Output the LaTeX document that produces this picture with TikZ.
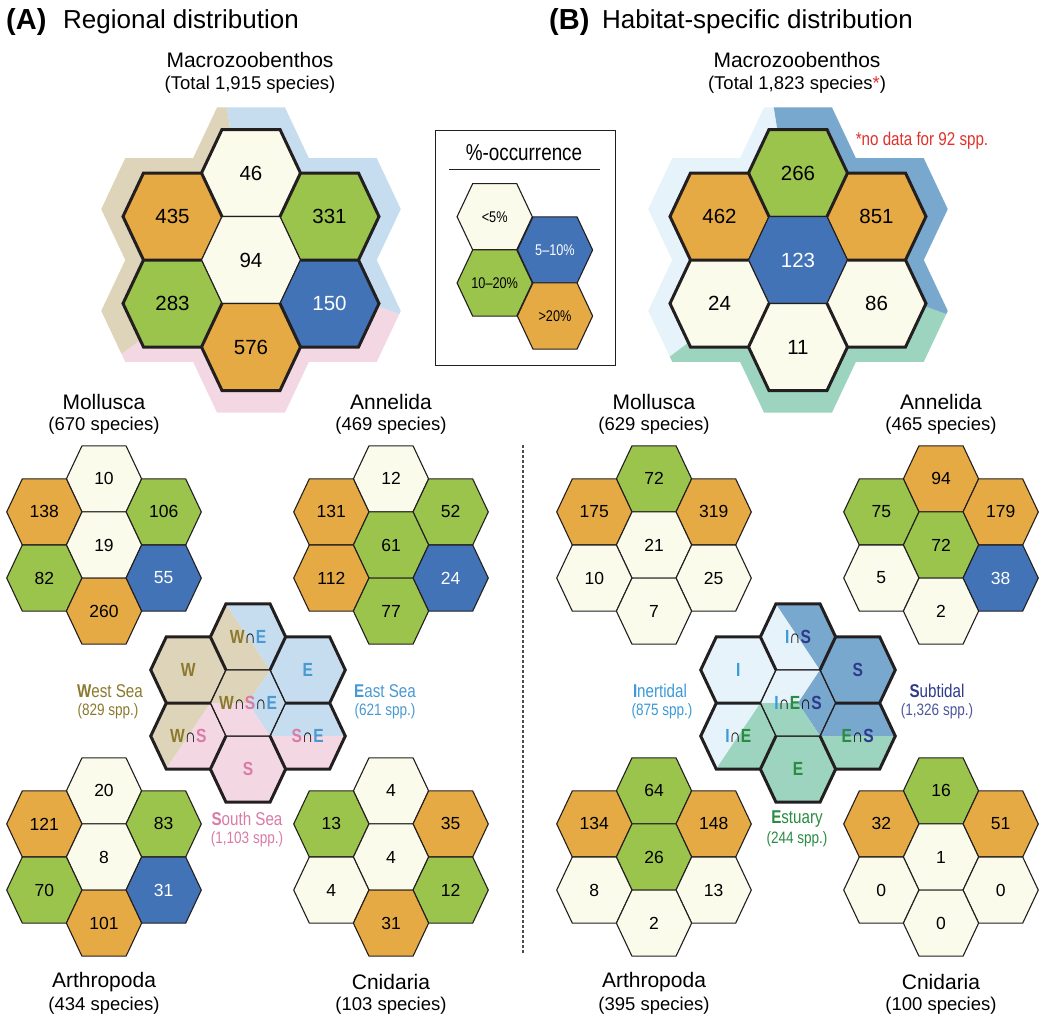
\documentclass[tikz,border=0pt]{standalone}
\usepackage{fontspec}
\setmainfont{Liberation Sans}
\newfontfamily\narrowfont{Liberation Sans}[FakeStretch=0.82]

\definecolor{cPale}{HTML}{FAFBEB}
\definecolor{cGreen}{HTML}{9BC44D}
\definecolor{cBlue}{HTML}{4273B7}
\definecolor{cOrange}{HTML}{E6AA45}
\definecolor{cLine}{HTML}{231F20}
\definecolor{bandW}{HTML}{DDD4B9}
\definecolor{bandE}{HTML}{C6DDEF}
\definecolor{bandS}{HTML}{F3D8E4}
\definecolor{bandI}{HTML}{E7F3FA}
\definecolor{bandSub}{HTML}{78A8CD}
\definecolor{bandEst}{HTML}{9CD4C0}
\definecolor{txtW}{HTML}{8B7A2E}
\definecolor{txtE}{HTML}{4A99D3}
\definecolor{txtS}{HTML}{DA7BA6}
\definecolor{txtI}{HTML}{3B9AD9}
\definecolor{txtSub}{HTML}{2D3A8C}
\definecolor{txtEst}{HTML}{2A8B41}
\definecolor{cRed}{HTML}{E0312B}

% one hexagon (flat top) around a point, scaled
\newcommand{\hexat}[3]{({#1},{#2}) ++({-49.5*#3},0) -- ++({20.5*#3},{-43.5*#3}) -- ++({58*#3},0) -- ++({20.5*#3},{43.5*#3}) -- ++({-20.5*#3},{43.5*#3}) -- ++({-58*#3},0) -- cycle}
% outer rim of seven hexagons, and the edges between the outer ones
\newcommand{\flowerline}{(-29,-130.5) -- (29,-130.5) -- (49.5,-87) -- (107.5,-87) -- (128,-43.5) -- (107.5,0) -- (128,43.5) -- (107.5,87) -- (49.5,87) -- (29,130.5) -- (-29,130.5) -- (-49.5,87) -- (-107.5,87) -- (-128,43.5) -- (-107.5,0) -- (-128,-43.5) -- (-107.5,-87) -- (-49.5,-87) -- cycle}
\newcommand{\spokes}{(29,-43.5) -- (49.5,-87) (49.5,0) -- (107.5,0) (29,43.5) -- (49.5,87) (-29,43.5) -- (-49.5,87) (-49.5,0) -- (-107.5,0) (-29,-43.5) -- (-49.5,-87)}
\newcommand{\cell}[6]{%
  \draw[hexline,#5] \hexat{#2}{#3}{#4};
  \node[#5,fill=none] (#1) at ({#2},{#3}) {#6};}
\newcommand{\flower}[6]{%
  \foreach \i/\j/\st/\num [count=\k] in {#6}{%
    \cell{#1\k}{#2+(\i)*78.5*#4}{#3+(\j)*43.5*#4}{#4}{#5,\st}{\num}}}
\newcommand{\setl}[2]{\textcolor{#1}{#2}}
\newcommand{\isect}{{\mdseries ∩}}

\tikzset{
  hexline/.style={draw=cLine, line width=1.1pt, line join=miter},
  rimline/.style={draw=cLine, line width=3pt, line join=miter},
  cP/.style={fill=cPale}, cG/.style={fill=cGreen},
  cB/.style={fill=cBlue, text=white}, cO/.style={fill=cOrange},
  bignum/.style={font=\fontsize{20.5}{24}\selectfont},
  smallnum/.style={font=\fontsize{17.5}{21}\selectfont},
  legnum/.style={font=\narrowfont\fontsize{15.5}{18}\selectfont},
  panelmark/.style={font=\bfseries\fontsize{29}{32}\selectfont, inner sep=0pt},
  paneltitle/.style={font=\fontsize{26}{30}\selectfont, inner sep=0pt},
  grouptitle/.style={font=\fontsize{21}{24}\selectfont, inner sep=0pt},
  groupcount/.style={font=\fontsize{18.5}{22}\selectfont, inner sep=0pt},
  setlabel/.style={font=\narrowfont\bfseries\fontsize{19}{21}\selectfont, inner sep=0pt},
  sidename/.style={font=\narrowfont\fontsize{18.5}{20}\selectfont, inner sep=0pt},
  sidecount/.style={font=\narrowfont\fontsize{16.5}{18}\selectfont, inner sep=0pt},
  divider/.style={draw=black!70, line width=1.3pt, dash pattern=on 3pt off 2pt}
}

\begin{document}
\begin{tikzpicture}[x=1pt, y=-1pt]
\fill[white] (0,0) rectangle (1045,1017);
\path[use as bounding box] (0,0) rectangle (1045,1017);

% panel headings
\node[panelmark, anchor=base west] (panA) at (6,29) {(A)};
\node[paneltitle, anchor=base west] (titA) at (63,28) {Regional distribution};
\node[panelmark, anchor=base west] (panB) at (549,29) {(B)};
\node[paneltitle, anchor=base west] (titB) at (602,28) {Habitat-specific distribution};

\node[grouptitle] (macA) at (250,60) {Macrozoobenthos};
\node[groupcount] (macAn) at (250,85) {(Total 1,915 species)};
\node[grouptitle] (macB) at (797,60) {Macrozoobenthos};
\node[groupcount] (macBn) at (797,85) {(Total 1,823 species\textcolor{cRed}{*})};
\node[sidename, text=cRed] (nodata) at (922,141) {*no data for 92 spp.};

% big cluster (A)
\begin{scope}[shift={(251,260)}]
  \clip[scale=1.17] \flowerline;
  \fill[bandW] (0,0) -- (-99:300) -- (-160:300) -- (-216:300) -- cycle;
  \fill[bandS] (0,0) -- (-216:300) -- (-280:300) -- (-340:300) -- cycle;
  \fill[bandE] (0,0) -- (-340:300) -- (-400:300) -- (-459:300) -- cycle;
\end{scope}
\flower{macroA}{251}{260}{1}{bignum}{0/-2/cP/46, -1/-1/cO/435, 1/-1/cG/331, 0/0/cP/94, -1/1/cG/283, 1/1/cB/150, 0/2/cO/576}
\draw[rimline, shift={(251,260)}] \flowerline \spokes;

% big cluster (B)
\begin{scope}[shift={(798,260)}]
  \clip[scale=1.17] \flowerline;
  \fill[bandI] (0,0) -- (-99:300) -- (-160:300) -- (-217:300) -- cycle;
  \fill[bandEst] (0,0) -- (-217:300) -- (-280:300) -- (-340:300) -- cycle;
  \fill[bandSub] (0,0) -- (-340:300) -- (-400:300) -- (-459:300) -- cycle;
\end{scope}
\flower{macroB}{798}{260}{1}{bignum}{0/-2/cG/266, -1/-1/cO/462, 1/-1/cO/851, 0/0/cB/123, -1/1/cP/24, 1/1/cP/86, 0/2/cP/11}
\draw[rimline, shift={(798,260)}] \flowerline \spokes;

% legend
\node[draw=cLine, line width=1pt, minimum width=180pt, minimum height=235pt] (legend) at (525,247.5) {};
\node[font=\narrowfont\fontsize{23}{26}\selectfont] (legT) at (524,153) {\%-occurrence};
\draw[cLine, line width=1.2pt] (449,169.5) -- (600,169.5);
\cell{legP}{494.7}{216.7}{0.76}{legnum,cP}{<5\%}
\cell{legB}{555}{250}{0.76}{legnum,cB}{5–10\%}
\cell{legG}{494.7}{283}{0.76}{legnum,cG}{10–20\%}
\cell{legO}{555}{316}{0.76}{legnum,cO}{>20\%}

% group names
\foreach \nm/\x/\y/\ttl/\cnt in {mollA/104/402/Mollusca/670, annA/391/402/Annelida/469, arthA/104/982/Arthropoda/434, cnidA/391/982/Cnidaria/103, mollB/654/402/Mollusca/629, annB/941/402/Annelida/465, arthB/654/982/Arthropoda/395, cnidB/941/982/Cnidaria/100}{
  \node[grouptitle] (\nm) at (\x,\y) {\ttl};
  \node[groupcount] (\nm-n) at (\x,\y+24) {(\cnt\ species)};
}

% small clusters (A)
\flower{mollA}{104}{545}{0.76}{smallnum}{0/-2/cP/10, -1/-1/cO/138, 1/-1/cG/106, 0/0/cP/19, -1/1/cG/82, 1/1/cB/55, 0/2/cO/260}
\flower{annA}{391}{545}{0.76}{smallnum}{0/-2/cP/12, -1/-1/cO/131, 1/-1/cG/52, 0/0/cG/61, -1/1/cO/112, 1/1/cB/24, 0/2/cG/77}
\flower{arthA}{104}{857}{0.76}{smallnum}{0/-2/cP/20, -1/-1/cO/121, 1/-1/cG/83, 0/0/cP/8, -1/1/cG/70, 1/1/cB/31, 0/2/cO/101}
\flower{cnidA}{391}{857}{0.76}{smallnum}{0/-2/cP/4, -1/-1/cG/13, 1/-1/cO/35, 0/0/cP/4, -1/1/cP/4, 1/1/cG/12, 0/2/cO/31}

% small clusters (B)
\flower{mollB}{654}{545}{0.76}{smallnum}{0/-2/cG/72, -1/-1/cO/175, 1/-1/cO/319, 0/0/cP/21, -1/1/cP/10, 1/1/cP/25, 0/2/cP/7}
\flower{annB}{941}{545}{0.76}{smallnum}{0/-2/cO/94, -1/-1/cG/75, 1/-1/cO/179, 0/0/cG/72, -1/1/cP/5, 1/1/cB/38, 0/2/cP/2}
\flower{arthB}{654}{857}{0.76}{smallnum}{0/-2/cG/64, -1/-1/cO/134, 1/-1/cO/148, 0/0/cG/26, -1/1/cP/8, 1/1/cP/13, 0/2/cP/2}
\flower{cnidB}{941}{857}{0.76}{smallnum}{0/-2/cG/16, -1/-1/cO/32, 1/-1/cO/51, 0/0/cP/1, -1/1/cP/0, 1/1/cP/0, 0/2/cP/0}

% key of the seas (A)
\begin{scope}[shift={(248,703)}]
  \begin{scope}
    \clip[scale=0.76] \flowerline;
    \fill[bandW] (0,0) -- (22,-33) -- (-40,-126) -- (-200,-126) -- (-200,93) -- (-100,93) -- (-37.6,0) -- cycle;
    \fill[bandE] (0,0) -- (22,-33) -- (-40,-126) -- (200,-126) -- (200,33) -- (22,33) -- cycle;
    \fill[bandS] (0,0) -- (22,33) -- (200,33) -- (200,200) -- (-200,200) -- (-200,93) -- (-100,93) -- (-37.6,0) -- cycle;
  \end{scope}
  \foreach \i/\j in {0/-2,-1/-1,1/-1,0/0,-1/1,1/1,0/2}
    \draw[hexline] \hexat{(\i)*59.66}{(\j)*33.06}{0.76};
  \draw[rimline, scale=0.76] \flowerline \spokes;
  \node[setlabel] (keyWE) at (0,-66) {\setl{txtW}{W}\isect\setl{txtE}{E}};
  \node[setlabel] (keyW) at (-59.7,-33) {\setl{txtW}{W}};
  \node[setlabel] (keyE) at (59.7,-33) {\setl{txtE}{E}};
  \node[setlabel] (keyWSE) at (0,0) {\setl{txtW}{W}\isect\setl{txtS}{S}\isect\setl{txtE}{E}};
  \node[setlabel] (keyWS) at (-59.7,33) {\setl{txtW}{W}\isect\setl{txtS}{S}};
  \node[setlabel] (keySE) at (59.7,33) {\setl{txtS}{S}\isect\setl{txtE}{E}};
  \node[setlabel] (keyS) at (0,66) {\setl{txtS}{S}};
\end{scope}
\node[sidename, text=txtW] (westL) at (110,691) {\textbf{W}est Sea};
\node[sidecount, text=txtW] (westN) at (108,711) {(829 spp.)};
\node[sidename, text=txtE] (eastL) at (385,691) {\textbf{E}ast Sea};
\node[sidecount, text=txtE] (eastN) at (385,711) {(621 spp.)};
\node[sidename, text=txtS] (southL) at (247,819) {\textbf{S}outh Sea};
\node[sidecount, text=txtS] (southN) at (247,839) {(1,103 spp.)};

% key of the habitats (B)
\begin{scope}[shift={(798,703)}]
  \begin{scope}
    \clip[scale=0.76] \flowerline;
    \fill[bandI] (0,0) -- (22,-33) -- (-40,-126) -- (-200,-126) -- (-200,93) -- (-100,93) -- (-37.6,0) -- cycle;
    \fill[bandSub] (0,0) -- (22,-33) -- (-40,-126) -- (200,-126) -- (200,33) -- (22,33) -- cycle;
    \fill[bandEst] (0,0) -- (22,33) -- (200,33) -- (200,200) -- (-200,200) -- (-200,93) -- (-100,93) -- (-37.6,0) -- cycle;
  \end{scope}
  \foreach \i/\j in {0/-2,-1/-1,1/-1,0/0,-1/1,1/1,0/2}
    \draw[hexline] \hexat{(\i)*59.66}{(\j)*33.06}{0.76};
  \draw[rimline, scale=0.76] \flowerline \spokes;
  \node[setlabel] (keyIS) at (0,-66) {\setl{txtI}{I}\isect\setl{txtSub}{S}};
  \node[setlabel] (keyI) at (-59.7,-33) {\setl{txtI}{I}};
  \node[setlabel] (keySub) at (59.7,-33) {\setl{txtSub}{S}};
  \node[setlabel] (keyIES) at (0,0) {\setl{txtI}{I}\isect\setl{txtEst}{E}\isect\setl{txtSub}{S}};
  \node[setlabel] (keyIE) at (-59.7,33) {\setl{txtI}{I}\isect\setl{txtEst}{E}};
  \node[setlabel] (keyES) at (59.7,33) {\setl{txtEst}{E}\isect\setl{txtSub}{S}};
  \node[setlabel] (keyEst) at (0,66) {\setl{txtEst}{E}};
\end{scope}
\node[sidename, text=txtI] (interL) at (660,691) {\textbf{I}nertidal};
\node[sidecount, text=txtI] (interN) at (662,711) {(875 spp.)};
\node[sidename, text=txtSub] (subL) at (937,691) {\textbf{S}ubtidal};
\node[sidecount, text=txtSub!85] (subN) at (937,711) {(1,326 spp.)};
\node[sidename, text=txtEst] (estL) at (797,819) {\textbf{E}stuary};
\node[sidecount, text=txtEst] (estN) at (797,839) {(244 spp.)};

% divider between the panels
\coordinate (divtop) at (523,445);
\coordinate (divbot) at (523,954);
\draw[divider] (divtop) -- (divbot);
\end{tikzpicture}
\end{document}
